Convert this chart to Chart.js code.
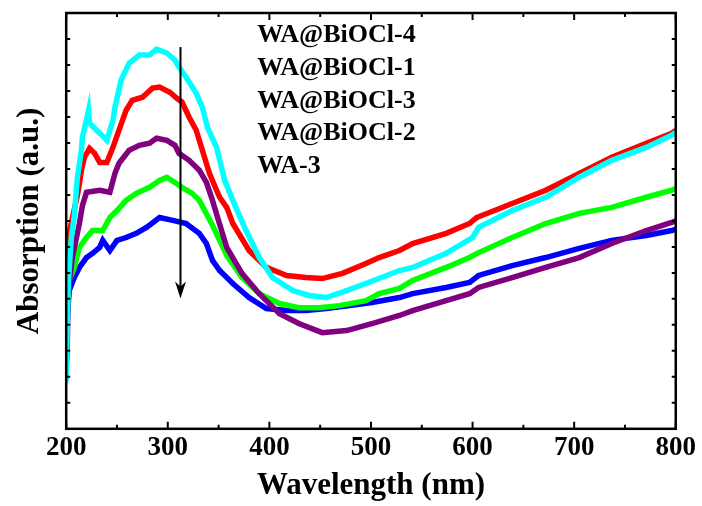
<!DOCTYPE html>
<html>
<head>
<meta charset="utf-8">
<script src="https://cdn.jsdelivr.net/npm/chart.js"></script>
<style>
  html, body { margin: 0; padding: 0; background: #fff; }
  #wrap { width: 702px; height: 506px; }
</style>
</head>
<body>
<div id="wrap"><canvas id="uvvis"></canvas></div>
<script>
// UV-vis absorption spectra, values in arbitrary units
const xTicks = [200, 300, 400, 500, 600, 700, 800];

const bi4Nm  = [200, 201, 202, 205, 208, 211, 215, 216, 222, 223, 230, 240, 246, 248, 254, 262, 272, 282, 289, 299, 307, 311, 318, 328, 334, 339, 348, 356, 364, 377, 390, 403, 423, 439, 456, 476, 495, 528, 541, 574, 600, 606, 639, 672, 705, 737, 771, 796, 800];
const bi4Abs = [1.85, 3.78, 5.59, 7.32, 8.21, 9.68, 10.72, 11.22, 12.26, 11.76, 11.49, 11.10, 11.87, 12.37, 13.42, 14.07, 14.38, 14.38, 14.61, 14.46, 14.19, 13.92, 13.53, 12.91, 12.37, 11.60, 10.83, 9.56, 8.79, 7.63, 6.59, 5.82, 5.32, 5.13, 5.05, 5.32, 5.59, 6.09, 6.21, 6.75, 7.36, 7.75, 8.40, 8.91, 9.68, 10.33, 10.83, 11.30, 11.40];

const bi1Nm  = [200, 203, 211, 213, 215, 218, 223, 228, 233, 240, 246, 252, 259, 265, 275, 285, 292, 302, 309, 314, 321, 328, 334, 341, 348, 351, 358, 364, 380, 397, 417, 436, 452, 472, 495, 508, 528, 541, 574, 597, 604, 639, 672, 705, 737, 771, 796, 800];
const bi1Abs = [6.28, 7.56, 8.98, 9.44, 9.95, 10.45, 10.79, 10.60, 10.25, 10.25, 10.83, 11.49, 12.26, 12.64, 12.76, 13.11, 13.15, 12.95, 12.72, 12.57, 11.99, 11.49, 10.72, 9.83, 9.18, 8.91, 8.52, 7.90, 6.86, 6.21, 5.90, 5.82, 5.78, 5.98, 6.36, 6.59, 6.86, 7.13, 7.52, 7.90, 8.13, 8.67, 9.18, 9.83, 10.45, 10.99, 11.37, 11.48];

const bi3Nm  = [200, 201, 202, 206, 213, 216, 220, 233, 243, 248, 252, 262, 272, 282, 289, 299, 307, 311, 321, 331, 338, 344, 349, 358, 373, 390, 410, 429, 452, 476, 501, 528, 541, 574, 597, 606, 639, 672, 705, 737, 771, 796, 800];
const bi3Abs = [2.31, 3.08, 5.20, 6.59, 7.90, 8.60, 9.10, 9.18, 9.10, 9.83, 10.22, 10.72, 10.91, 10.99, 11.18, 11.10, 10.91, 10.60, 10.33, 9.95, 9.48, 8.79, 8.13, 6.98, 5.98, 5.20, 4.43, 4.05, 3.70, 3.78, 4.05, 4.36, 4.55, 4.93, 5.20, 5.44, 5.82, 6.21, 6.59, 7.13, 7.63, 7.94, 8.00];

const bi2Nm  = [200, 201, 203, 208, 213, 220, 226, 236, 243, 250, 259, 269, 282, 292, 299, 307, 314, 324, 331, 344, 358, 373, 390, 410, 429, 449, 469, 495, 508, 528, 541, 574, 597, 606, 639, 672, 705, 737, 771, 796, 800];
const bi2Abs = [3.20, 4.66, 5.71, 6.21, 6.98, 7.36, 7.63, 7.63, 8.13, 8.40, 8.79, 9.06, 9.29, 9.56, 9.68, 9.48, 9.29, 9.06, 8.79, 7.83, 6.67, 5.82, 5.20, 4.82, 4.66, 4.66, 4.74, 4.93, 5.20, 5.40, 5.71, 6.21, 6.59, 6.78, 7.36, 7.90, 8.29, 8.52, 8.91, 9.18, 9.25];

const wa3Nm  = [200, 203, 208, 213, 220, 226, 233, 236, 243, 250, 259, 269, 279, 292, 305, 318, 331, 338, 344, 351, 364, 380, 397, 417, 436, 456, 479, 501, 528, 541, 574, 597, 606, 639, 672, 705, 737, 771, 796, 800];
const wa3Abs = [3.78, 5.32, 5.82, 6.21, 6.59, 6.75, 6.98, 7.25, 6.86, 7.25, 7.36, 7.52, 7.75, 8.13, 8.02, 7.90, 7.52, 7.13, 6.48, 6.09, 5.59, 5.05, 4.63, 4.55, 4.55, 4.63, 4.74, 4.86, 5.05, 5.20, 5.44, 5.63, 5.90, 6.28, 6.59, 6.94, 7.25, 7.44, 7.63, 7.68];

const seriesNames  = ["WA@BiOCl-4", "WA@BiOCl-1", "WA@BiOCl-3", "WA@BiOCl-2", "WA-3"];
const seriesColors = ["#00ffff", "#ff0000", "#800080", "#00ff00", "#0000ff"];

// arrow showing the trend: wavelength, top value, tip value
const arrowNm = 312.5;
const arrowFrom = 14.69;
const arrowTo = 5.01;

const serif = "'Liberation Serif', 'Times New Roman', serif";

function pairs(xs, ys) {
  return xs.map((x, i) => ({ x: x, y: ys[i] }));
}

const allSeries = [
  pairs(bi4Nm, bi4Abs),
  pairs(bi1Nm, bi1Abs),
  pairs(bi3Nm, bi3Abs),
  pairs(bi2Nm, bi2Abs),
  pairs(wa3Nm, wa3Abs)
];

const datasets = allSeries.map((pts, i) => ({
  label: seriesNames[i],
  data: pts,
  borderColor: seriesColors[i],
  backgroundColor: seriesColors[i],
  borderWidth: 5.5,
  pointStyle: "rect",
  pointRadius: 2.8,
  pointBorderWidth: 0,
  tension: 0
}));

// frame, inward ticks, arrow and text legend
const framePlugin = {
  id: "frame",
  afterDraw(chart) {
    const ctx = chart.ctx;
    const a = chart.chartArea;
    const xs = chart.scales.x, ys = chart.scales.y;
    ctx.save();
    ctx.strokeStyle = "#000";
    ctx.lineWidth = 2.5;
    ctx.strokeRect(a.left, a.top, a.right - a.left, a.bottom - a.top);

    ctx.lineWidth = 2;
    ctx.beginPath();
    for (let v = 200; v <= 800; v += 50) {
      const px = xs.getPixelForValue(v);
      const len = v % 100 === 0 ? 7 : 4;
      ctx.moveTo(px, a.bottom); ctx.lineTo(px, a.bottom - len);
      ctx.moveTo(px, a.top); ctx.lineTo(px, a.top + len);
    }
    for (let v = 1; v < 16; v++) {
      const py = ys.getPixelForValue(v);
      ctx.moveTo(a.left, py); ctx.lineTo(a.left + 4, py);
      ctx.moveTo(a.right, py); ctx.lineTo(a.right - 4, py);
    }
    ctx.stroke();

    // arrow
    const ax = xs.getPixelForValue(arrowNm);
    const y0 = ys.getPixelForValue(arrowFrom);
    const y1 = ys.getPixelForValue(arrowTo);
    ctx.lineWidth = 2;
    ctx.beginPath();
    ctx.moveTo(ax, y0); ctx.lineTo(ax, y1 - 10);
    ctx.stroke();
    ctx.fillStyle = "#000";
    ctx.beginPath();
    ctx.moveTo(ax, y1);
    ctx.lineTo(ax - 5.5, y1 - 17);
    ctx.lineTo(ax, y1 - 12);
    ctx.lineTo(ax + 5.5, y1 - 17);
    ctx.closePath();
    ctx.fill();

    // legend text
    ctx.font = "bold 26px " + serif;
    ctx.textAlign = "left";
    ctx.textBaseline = "alphabetic";
    seriesNames.forEach((name, i) => {
      ctx.fillText(name, a.left + 191, a.top + 29 + i * 32.75);
    });
    ctx.restore();
  }
};

new Chart(document.getElementById("uvvis"), {
  type: "line",
  data: { datasets: datasets },
  options: {
    responsive: true,
    maintainAspectRatio: false,
    animation: false,
    layout: { padding: { left: 10, right: 25, top: 13, bottom: 1 } },
    plugins: { legend: { display: false }, tooltip: { enabled: false } },
    scales: {
      x: {
        type: "linear",
        min: 200,
        max: 800,
        afterBuildTicks: (s) => { s.ticks = xTicks.map(v => ({ value: v })); },
        ticks: { color: "#000", padding: 6, font: { family: serif, size: 27, weight: "bold", lineHeight: 1.0 } },
        grid: { display: false, drawTicks: false },
        border: { display: false },
        title: {
          display: true,
          text: "Wavelength (nm)",
          color: "#000",
          padding: { top: 0, bottom: 0 },
          font: { family: serif, size: 31, weight: "bold" }
        }
      },
      y: {
        min: 0,
        max: 16,
        ticks: { display: false },
        grid: { display: false, drawTicks: false },
        border: { display: false },
        title: {
          display: true,
          text: "Absorption (a.u.)",
          color: "#000",
          padding: { top: 1, bottom: 18 },
          font: { family: serif, size: 31, weight: "bold" }
        }
      }
    }
  },
  plugins: [framePlugin]
});
</script>
</body>
</html>
